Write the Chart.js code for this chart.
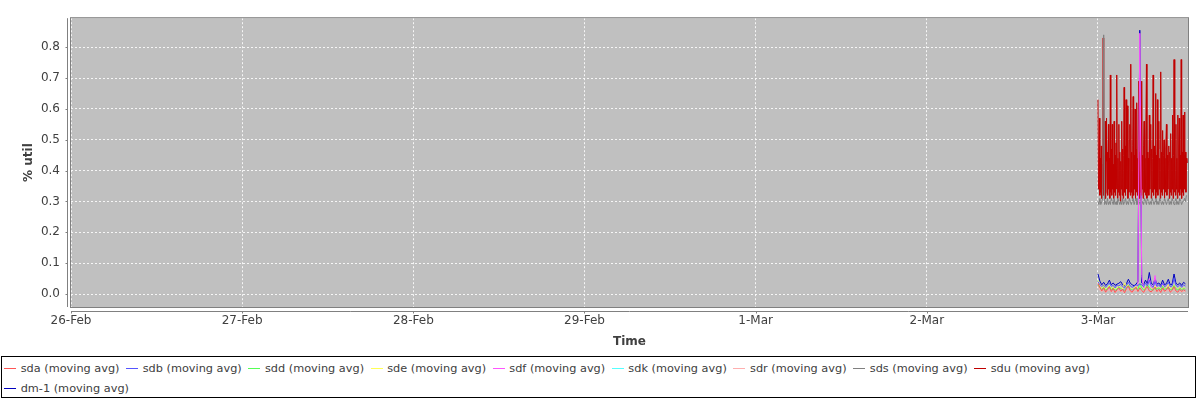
<!DOCTYPE html>
<html>
<head>
<meta charset="utf-8">
<script src="https://cdn.jsdelivr.net/npm/chart.js@4/dist/chart.umd.min.js"></script>
<style>
  body { margin: 0; background: #fff; }
  #wrap { position: relative; width: 1200px; height: 400px; }
  #chart { position: absolute; left: 0; top: 0; }
  #legend {
    position: absolute; left: 1px; top: 356px; width: 1195px; height: 42px;
    box-sizing: border-box; border: 1px solid #000; padding: 1px 0 0 2px;
    display: flex; flex-wrap: wrap; column-gap: 6.5px; align-content: flex-start;
    font: 11.3px "DejaVu Sans", sans-serif; color: #404040;
  }
  #legend .item { display: flex; align-items: center; height: 20px; white-space: nowrap; }
  #legend .swatch { width: 12px; height: 1px; margin-right: 4.7px; }
</style>
</head>
<body>
<div id="wrap">
  <canvas id="chart" width="1200" height="352"></canvas>
  <div id="legend"></div>
</div>
<script>
// x axis: days since 26-Feb 00:00
const dayLabels = ["26-Feb", "27-Feb", "28-Feb", "29-Feb", "1-Mar", "2-Mar", "3-Mar"];
const dataStartDay = 6;      // samples begin 3-Mar 00:00
const axisEndDay = 6.526;

// % util
const sdu = [
  0.63,0.34,0.45,0.57,0.32,0.44,0.33,0.48,0.31,0.42,
  0.34,0.83,0.32,0.45,0.33,0.56,0.31,0.43,0.57,0.33,
  0.46,0.32,0.55,0.34,0.44,0.31,0.71,0.33,0.47,0.32,
  0.55,0.34,0.42,0.31,0.56,0.33,0.45,0.32,0.49,0.34,
  0.71,0.31,0.44,0.33,0.55,0.32,0.46,0.30,0.43,0.34,
  0.56,0.32,0.47,0.31,0.45,0.67,0.33,0.48,0.32,0.63,
  0.34,0.46,0.61,0.31,0.44,0.33,0.50,0.55,0.32,0.745,
  0.33,0.46,0.31,0.48,0.64,0.32,0.45,0.34,0.60,0.31,
  0.47,0.33,0.62,0.32,0.44,0.34,0.69,0.31,0.46,0.33,
  0.61,0.32,0.69,0.34,0.45,0.31,0.48,0.56,0.33,0.44,
  0.32,0.50,0.745,0.31,0.46,0.33,0.44,0.32,0.58,0.34,
  0.45,0.55,0.31,0.47,0.33,0.44,0.71,0.32,0.48,0.34,
  0.46,0.65,0.31,0.45,0.33,0.63,0.32,0.47,0.56,0.34,
  0.44,0.31,0.72,0.33,0.46,0.32,0.53,0.34,0.45,0.50,
  0.31,0.44,0.33,0.47,0.55,0.32,0.45,0.34,0.43,0.48,
  0.31,0.46,0.33,0.52,0.32,0.44,0.34,0.58,0.31,0.45,
  0.76,0.33,0.46,0.32,0.55,0.34,0.44,0.31,0.58,0.33,
  0.47,0.57,0.32,0.45,0.34,0.76,0.31,0.46,0.33,0.58,
  0.32,0.45,0.59,0.34,0.46,0.33,0.44,0.425
];
const sds = [
  0.30,0.29,0.31,0.29,0.30,0.31,0.84,0.29,0.30,0.29,
  0.31,0.29,0.30,0.29,0.31,0.30,0.29,0.31,0.29,0.30,
  0.29,0.31,0.30,0.29,0.30,0.29,0.31,0.29,0.30,0.31,
  0.29,0.30,0.29,0.31,0.30,0.29,0.30,0.31,0.29,0.30,
  0.31,0.29,0.30,0.29,0.30,0.31,0.29,0.30,0.29,0.31,
  0.30,0.29,0.31,0.30,0.29,0.30,0.29,0.31,0.30,0.29,
  0.30,0.31,0.29,0.30,0.29,0.31,0.30,0.29,0.30,0.29,
  0.31,0.30,0.29,0.30,0.31,0.29,0.30,0.29,0.31,0.30,
  0.29,0.30,0.31,0.29,0.30,0.29,0.31,0.30,0.29,0.30,
  0.30,0.31,0.30,0.32
];
const sda = [0.035,0.022,0.01,0.02,0.006,0.015,0.024,0.008,0.018,0.005,0.014,0.02,0.009,0.016,0.004,0.019,0.026,0.01,0.006,0.016,0.022,0.008,0.02,0.012,0.005,0.017,0.024,0.01,0.007,0.015,0.022,0.008,0.016,0.005,0.02,0.009,0.014,0.022,0.006,0.012,0.024,0.01,0.006,0.016,0.008,0.014,0.01];
const sdb = [0.04,0.03,0.025,0.028,0.022,0.03,0.035,0.025,0.028,0.02,0.03,0.026,0.032,0.024,0.02,0.028,0.038,0.026,0.022,0.025,0.03,0.028,0.032,0.03,0.024,0.036,0.026,0.045,0.028,0.022,0.04,0.025,0.03,0.022,0.035,0.024,0.028,0.038,0.024,0.026,0.05,0.028,0.024,0.03,0.022,0.03,0.026];
const sdd = [0.03,0.02,0.015,0.022,0.012,0.018,0.025,0.014,0.02,0.012,0.016,0.022,0.018,0.014,0.012,0.02,0.028,0.016,0.013,0.018,0.02,0.015,0.035,0.02,0.014,0.018,0.03,0.02,0.015,0.012,0.022,0.016,0.02,0.013,0.025,0.015,0.018,0.022,0.014,0.016,0.028,0.017,0.013,0.02,0.014,0.018,0.016];
const sde = [0.045,0.025,0.018,0.03,0.015,0.02,0.028,0.018,0.024,0.015,0.02,0.026,0.02,0.017,0.036,0.022,0.03,0.018,0.015,0.02,0.025,0.018,0.03,0.022,0.016,0.02,0.032,0.024,0.017,0.015,0.026,0.018,0.022,0.015,0.028,0.017,0.02,0.032,0.016,0.018,0.03,0.02,0.015,0.022,0.016,0.02,0.018];
const sdf = [0.03,0.02,0.015,0.02,0.012,0.016,0.02,0.013,0.018,0.012,0.015,0.02,0.017,0.013,0.012,0.018,0.022,0.015,0.012,0.016,0.02,0.03,0.845,0.06,0.02,0.018,0.025,0.05,0.02,0.015,0.06,0.018,0.02,0.014,0.035,0.016,0.018,0.03,0.015,0.016,0.025,0.018,0.014,0.02,0.015,0.018,0.016];
const sdk = [0.045,0.022,0.016,0.02,0.014,0.018,0.03,0.015,0.02,0.013,0.017,0.022,0.018,0.015,0.013,0.02,0.025,0.016,0.014,0.018,0.022,0.016,0.028,0.02,0.015,0.018,0.024,0.03,0.016,0.014,0.022,0.016,0.02,0.014,0.024,0.016,0.018,0.022,0.015,0.017,0.026,0.018,0.014,0.02,0.015,0.018,0.017];
const sdr = [0.025,0.012,0.008,0.012,0.006,0.01,0.014,0.007,0.011,0.006,0.009,0.012,0.01,0.007,0.006,0.011,0.015,0.008,0.006,0.01,0.012,0.008,0.016,0.01,0.007,0.009,0.014,0.01,0.008,0.006,0.012,0.008,0.01,0.006,0.013,0.008,0.009,0.012,0.007,0.008,0.014,0.009,0.006,0.01,0.007,0.009,0.008];
const dm1 = [0.065,0.042,0.03,0.038,0.028,0.033,0.045,0.03,0.036,0.028,0.032,0.035,0.04,0.03,0.026,0.034,0.048,0.035,0.03,0.027,0.032,0.04,0.855,0.036,0.03,0.045,0.033,0.07,0.035,0.03,0.05,0.032,0.036,0.028,0.045,0.03,0.034,0.048,0.03,0.032,0.065,0.035,0.03,0.036,0.028,0.038,0.033];

const seriesNames = ["sda", "sdb", "sdd", "sde", "sdf", "sdk", "sdr", "sds", "sdu", "dm-1"];
const seriesValues = [sda, sdb, sdd, sde, sdf, sdk, sdr, sds, sdu, dm1];
const seriesStepMin = [16, 16, 16, 16, 16, 16, 16, 8, 4, 16];   // sampling interval of each series
const seriesColors = ["#ff5555", "#5555ff", "#55ff55", "#ffff55", "#ff55ff", "#55ffff", "#ffafaf", "#808080", "#c00000", "#0000c0"];

const datasets = seriesNames.map((name, i) => ({
    label: name + " (moving avg)",
    data: seriesValues[i].map((v, k) => ({ x: dataStartDay + k * seriesStepMin[i] / 1440, y: v })),
    borderColor: seriesColors[i],
    backgroundColor: seriesColors[i],
    borderWidth: 1,
    pointRadius: 0,
    tension: 0,
    fill: false
}));

// legend
const legendEl = document.getElementById("legend");
seriesNames.forEach((name, i) => {
    const item = document.createElement("span");
    item.className = "item";
    const sw = document.createElement("span");
    sw.className = "swatch";
    sw.style.background = seriesColors[i];
    item.appendChild(sw);
    item.appendChild(document.createTextNode(name + " (moving avg)"));
    legendEl.appendChild(item);
});

// plot background, frame and offset axis lines
const framePlugin = {
    id: "frame",
    beforeDraw(chart) {
        const { ctx, chartArea: a } = chart;
        ctx.save();
        ctx.fillStyle = "#ffffff";
        ctx.fillRect(0, 0, chart.width, chart.height);
        ctx.fillStyle = "#c0c0c0";
        ctx.fillRect(a.left, a.top, a.right - a.left, a.bottom - a.top);
        ctx.restore();
    },
    afterDraw(chart) {
        const { ctx, chartArea: a, scales } = chart;
        ctx.save();
        ctx.strokeStyle = "#808080";
        ctx.lineWidth = 1;
        ctx.strokeRect(a.left - 0.5, a.top - 0.5, a.right - a.left + 1, a.bottom - a.top + 1);
        ctx.beginPath();
        const ax = a.left - 3.5;
        ctx.moveTo(ax, a.top); ctx.lineTo(ax, a.bottom);
        scales.y.ticks.forEach(t => {
            const py = Math.round(scales.y.getPixelForValue(t.value)) + 0.5;
            ctx.moveTo(ax - 2, py); ctx.lineTo(ax, py);
        });
        const ay = a.bottom + 4.5;
        ctx.moveTo(a.left, ay); ctx.lineTo(a.right, ay);
        scales.x.ticks.forEach(t => {
            const px = Math.round(scales.x.getPixelForValue(t.value)) + 0.5;
            ctx.moveTo(px, ay); ctx.lineTo(px, ay + 2);
        });
        ctx.stroke();
        ctx.restore();
    }
};

const textColor = "#404040";
const gridStyle = { color: "rgba(255,255,255,0.85)", lineWidth: 1, drawTicks: false };

new Chart(document.getElementById("chart"), {
    type: "line",
    data: { datasets },
    options: {
        responsive: false,
        animation: false,
        devicePixelRatio: 1,
        layout: { padding: { top: 8, right: 12, left: 0, bottom: 0 } },
        plugins: { legend: { display: false }, tooltip: { enabled: false } },
        scales: {
            x: {
                type: "linear",
                min: 0,
                max: axisEndDay,
                afterFit: s => { s.height = 45; },
                grid: gridStyle,
                border: { display: false, dash: [2, 2] },
                ticks: {
                    stepSize: 1,
                    includeBounds: false,
                    autoSkip: false,
                    maxRotation: 0,
                    padding: 7,
                    color: textColor,
                    font: { family: "DejaVu Sans", size: 12 },
                    callback: v => dayLabels[Math.round(v)]
                },
                title: {
                    display: true, text: "Time", color: textColor,
                    font: { family: "DejaVu Sans", size: 12, weight: "bold" },
                    padding: { top: 0, bottom: 3 }
                }
            },
            y: {
                min: -0.042,
                max: 0.894,
                afterFit: s => { s.width = 71; },
                grid: gridStyle,
                border: { display: false, dash: [2, 2] },
                ticks: {
                    stepSize: 0.1,
                    includeBounds: false,
                    padding: 11,
                    color: textColor,
                    font: { family: "DejaVu Sans", size: 12 },
                    callback: v => v.toFixed(1)
                },
                title: {
                    display: true, text: "% util", color: textColor,
                    font: { family: "DejaVu Sans", size: 12, weight: "bold" },
                    padding: { top: 22, bottom: 0 }
                }
            }
        }
    },
    plugins: [framePlugin]
});
</script>
</body>
</html>
